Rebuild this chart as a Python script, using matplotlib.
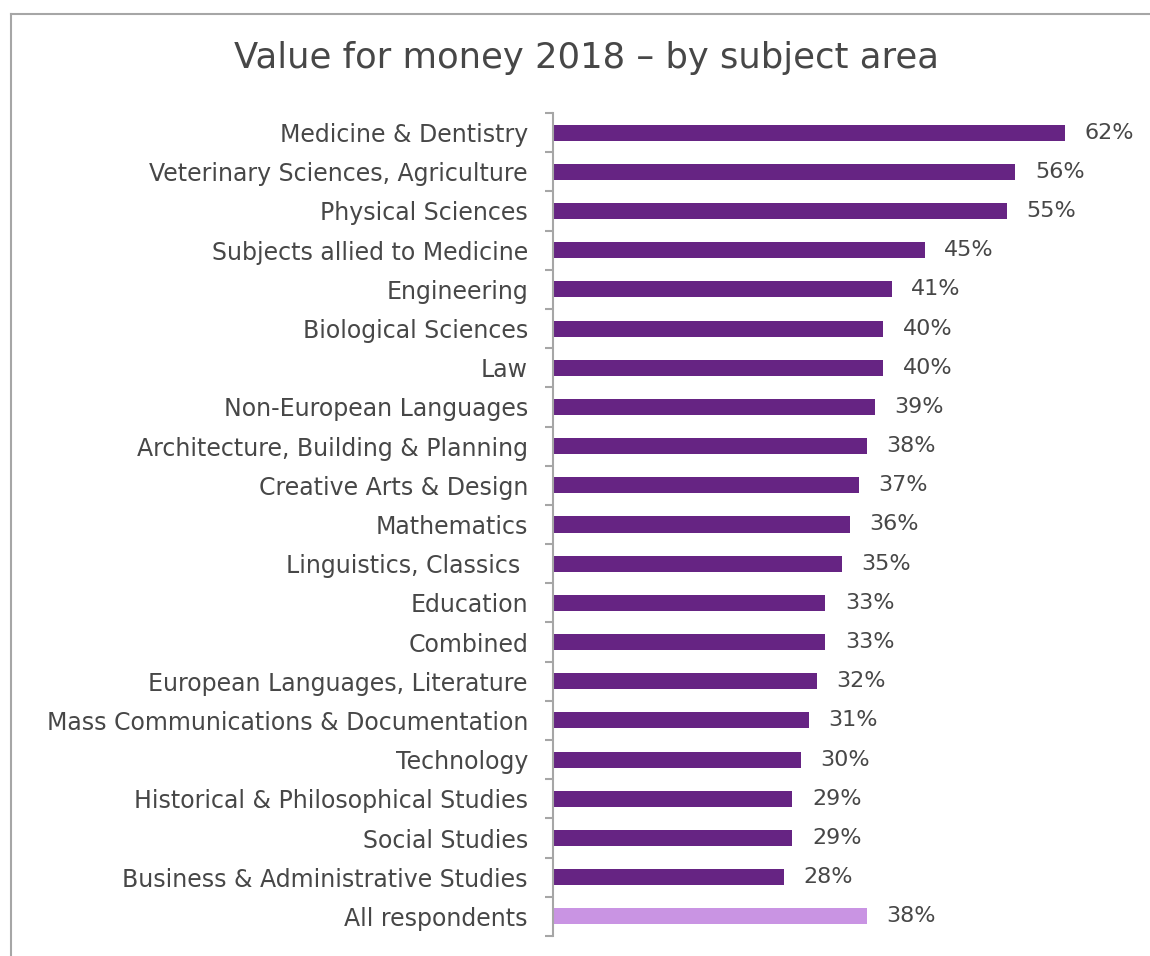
import matplotlib
matplotlib.use("Agg")
import matplotlib.pyplot as plt
from matplotlib.lines import Line2D
import numpy as np

subjects = [
    "Medicine & Dentistry",
    "Veterinary Sciences, Agriculture",
    "Physical Sciences",
    "Subjects allied to Medicine",
    "Engineering",
    "Biological Sciences",
    "Law",
    "Non-European Languages",
    "Architecture, Building & Planning",
    "Creative Arts & Design",
    "Mathematics",
    "Linguistics, Classics ",
    "Education",
    "Combined",
    "European Languages, Literature",
    "Mass Communications & Documentation",
    "Technology",
    "Historical & Philosophical Studies",
    "Social Studies",
    "Business & Administrative Studies",
    "All respondents",
]
values = [62, 56, 55, 45, 41, 40, 40, 39, 38, 37, 36, 35, 33, 33, 32, 31, 30, 29, 29, 28, 38]

dark_purple = "#662483"
light_purple = "#C994E3"
text_color = "#474747"
frame_color = "#A6A6A6"

plt.rcParams["font.family"] = ["DejaVu Sans"]

W, H = 1150, 956
fig = plt.figure(figsize=(W / 100, H / 100), dpi=100)

# Outer chart frame (top and left edges visible, the rest runs off the canvas)
fig.add_artist(Line2D([11 / W, 1.0], [1 - 14 / H, 1 - 14 / H], transform=fig.transFigure,
                      color=frame_color, lw=1.5))
fig.add_artist(Line2D([11 / W, 11 / W], [0.0, 1 - 14 / H], transform=fig.transFigure,
                      color=frame_color, lw=1.5))

ax = fig.add_axes([553 / W, 20 / H, 578 / W, 823 / H])

n = len(subjects)
y = np.arange(n)
colors = [dark_purple] * (n - 1) + [light_purple]
ax.barh(y, values, height=0.41, color=colors, left=0)

ax.set_xlim(0, 70)
ax.set_ylim(n - 0.5, -0.5)

for yi, v in zip(y, values):
    ax.annotate(f"{v}%", xy=(v, yi), xytext=(14, 0), textcoords="offset points",
                va="center", ha="left", fontsize=16, color=text_color)

ax.set_yticks(y)
ax.set_yticklabels(subjects)
ax.tick_params(axis="y", which="major", length=0, pad=18, labelsize=17, labelcolor=text_color)
ax.set_yticks(np.arange(n + 1) - 0.5, minor=True)
ax.tick_params(axis="y", which="minor", length=6, width=1.5, color=frame_color, direction="out")
ax.set_xticks([])

for side in ("top", "right", "bottom"):
    ax.spines[side].set_visible(False)
ax.spines["left"].set_color(frame_color)
ax.spines["left"].set_linewidth(1.5)

fig.text(587 / W, 1 - 58 / H, "Value for money 2018 \u2013 by subject area",
         ha="center", va="center", fontsize=25.5, color=text_color)

fig.savefig("out.png", dpi=100)
